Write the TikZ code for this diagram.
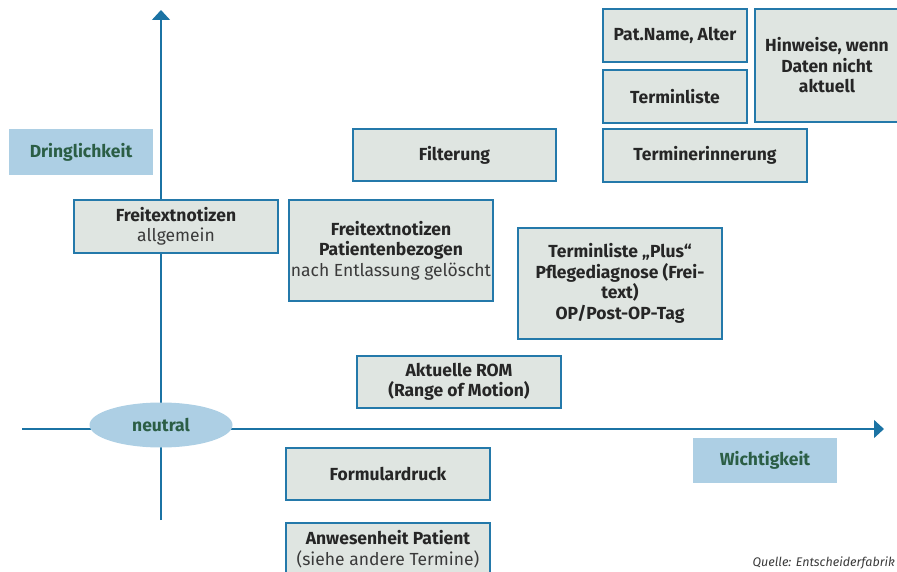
\documentclass[tikz,border=0pt]{standalone}
\usepackage{fontspec}
\setmainfont{Fira Sans}
\usetikzlibrary{arrows.meta,shapes.geometric}
\definecolor{axisblue}{HTML}{1B73A4}
\definecolor{boxfill}{HTML}{DFE5E1}
\definecolor{boxline}{HTML}{2479AA}
\definecolor{lightblue}{HTML}{ADCFE4}
\definecolor{darkgreen}{HTML}{2B5E45}
\definecolor{boxtext}{HTML}{262626}
\definecolor{subtext}{HTML}{3A3A3A}
\tikzset{
  gbox/.style={draw=boxline, fill=boxfill, line width=1.3pt, inner sep=0pt, align=center,
    text=boxtext, font=\fontsize{17.5}{20.5}\selectfont},
  labelbox/.style={fill=lightblue, inner sep=0pt, align=center, text=darkgreen,
    font=\fontsize{17.5}{20.5}\selectfont\bfseries},
  axis/.style={draw=axisblue, line width=1.3pt, -{Triangle[width=18pt,length=10pt]}},
}
\newcommand{\subl}[1]{{\mdseries\color{subtext}#1}}
\begin{document}
\begin{tikzpicture}[x=1pt,y=-1pt]
\useasboundingbox (0,0) rectangle (897,572);
\clip (0,0) rectangle (897,572);
% axes
\coordinate (vb) at (161,520);
\coordinate (vt) at (161,10);
\coordinate (hl) at (22,429);
\coordinate (hr) at (884,429);
\draw[axis] (vb) -- (vt);
\draw[axis] (hl) -- (hr);
% labels
\node[labelbox, minimum width=144pt, minimum height=46pt] (dring) at (81,152) {Dringlichkeit};
\node[labelbox, minimum width=144pt, minimum height=45pt] (wicht) at (765,460.5) {Wichtigkeit};
\node[labelbox, ellipse, minimum width=143pt, minimum height=45pt] (neutral) at (161,425) {neutral};
% boxes
\node[gbox, minimum width=144pt, minimum height=53pt] (patname) at (675,35.5) {\bfseries Pat.Name, Alter};
\node[gbox, minimum width=144pt, minimum height=53pt] (termliste) at (675,96.5) {\bfseries Terminliste};
\node[gbox, minimum width=144pt, minimum height=113pt] (hinweise) at (827,65.5) {\bfseries Hinweise, wenn\\\bfseries Daten nicht\\\bfseries aktuell};
\node[gbox, minimum width=203pt, minimum height=52pt] (filter) at (454.5,155) {\bfseries Filterung};
\node[gbox, minimum width=204pt, minimum height=53pt] (terminer) at (705,155.5) {\bfseries Terminerinnerung};
\node[gbox, minimum width=204pt, minimum height=53pt] (ftallg) at (176,226.5) {\bfseries Freitextnotizen\\\subl{allgemein}};
\node[gbox, minimum width=204pt, minimum height=101pt] (ftpat) at (391,250.5) {\bfseries Freitextnotizen\\\bfseries Patientenbezogen\\\subl{nach Entlassung gelöscht}};
\node[gbox, minimum width=204pt, minimum height=111pt] (tlplus) at (620,283.5) {\bfseries Terminliste „Plus“\\\bfseries Pflegediagnose (Frei-\\\bfseries text)\\\bfseries OP/Post-OP-Tag};
\node[gbox, minimum width=204pt, minimum height=52pt] (rom) at (459,382) {\bfseries Aktuelle ROM\\\bfseries (Range of Motion)};
\node[gbox, minimum width=204pt, minimum height=52pt] (form) at (388,474) {\bfseries Formulardruck};
\node[gbox, minimum width=204pt, minimum height=52pt] (anw) at (388,549) {\bfseries Anwesenheit Patient\\\subl{(siehe andere Termine)}};
% source
\node[anchor=base east, inner sep=0pt, text=subtext, font=\fontsize{12.5}{15}\selectfont\itshape] (quelle) at (895,566) {Quelle: Entscheiderfabrik};
\end{tikzpicture}
\end{document}
